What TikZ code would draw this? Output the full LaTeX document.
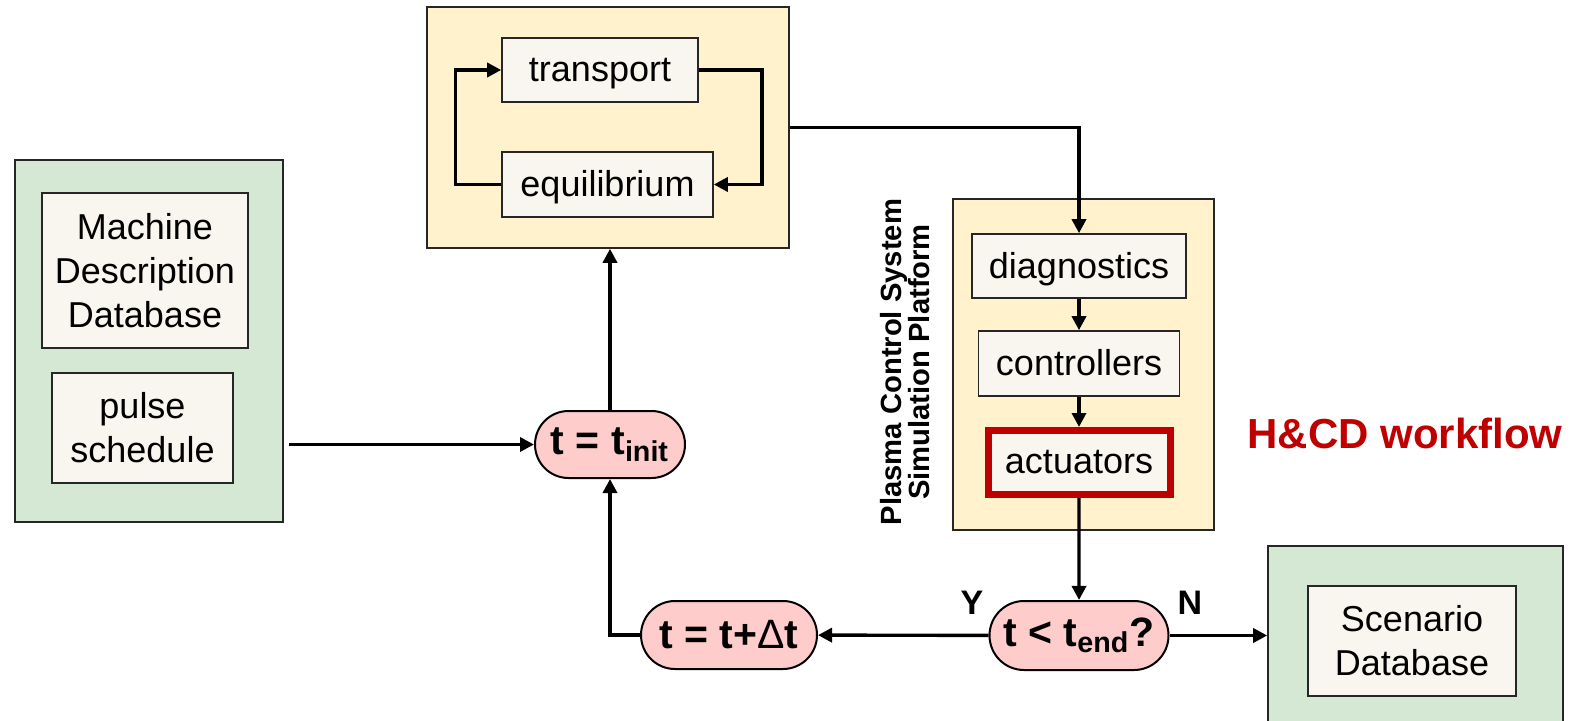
\documentclass[tikz,border=0pt]{standalone}
\usepackage{fontspec}
\setmainfont{Liberation Sans}
\usetikzlibrary{arrows.meta,shapes.misc}
\definecolor{panelyellow}{HTML}{FFF2CC}
\definecolor{panelgreen}{HTML}{D5E8D4}
\definecolor{boxcream}{HTML}{F8F6EE}
\definecolor{pillpink}{HTML}{FFCCCC}
\definecolor{hcdred}{HTML}{C00000}
\begin{document}
\begin{tikzpicture}[x=0.5pt,y=-0.5pt,
  panel/.style={draw=black!85,line width=0.8pt,inner sep=0pt},
  inbox/.style={draw=black!85,fill=boxcream,line width=0.8pt,inner sep=0pt,
    align=center,font=\fontsize{18}{22}\selectfont},
  oneline/.style={inbox,text depth=0.6pt},
  pill/.style={rounded rectangle,draw=black,fill=pillpink,line width=1pt,
    inner sep=0pt,font=\fontsize{20.5}{24}\selectfont\bfseries},
  link/.style={line width=1.7pt},
  arr/.style={link,-{Triangle[length=7pt,width=7pt]}},
  yn/.style={font=\fontsize{17}{20}\selectfont\bfseries}]
\clip (0,0) rectangle (1578,721);

% container panels
\node[panel,fill=panelyellow,minimum width=181pt,minimum height=120.5pt] (core) at (608,127.5) {};
\node[panel,fill=panelgreen,minimum width=134pt,minimum height=181pt] (inputs) at (149,341) {};
\node[panel,fill=panelyellow,minimum width=130.5pt,minimum height=165.5pt] (pcs) at (1083.5,364.5) {};
\node[panel,fill=panelgreen,minimum width=147.5pt,minimum height=100pt] (output) at (1415.5,646) {};

% inner boxes
\node[oneline,minimum width=98pt,minimum height=32pt] (transport) at (600,70) {transport};
\node[oneline,minimum width=105.5pt,minimum height=32.5pt] (equil) at (607.5,184.5) {equilibrium};
\node[inbox,minimum width=103pt,minimum height=77.5pt] (mdd) at (145,270.5) {Machine\\Description\\Database};
\node[inbox,minimum width=90.5pt,minimum height=55pt] (pulse) at (142.5,428) {pulse\\schedule};
\node[oneline,minimum width=107pt,minimum height=32pt] (diag) at (1079,266) {diagnostics};
\node[oneline,minimum width=100.5pt,minimum height=32.5pt] (ctrl) at (1079,363.5) {controllers};
\node[oneline,draw=hcdred,line width=3.5pt,minimum width=91pt,minimum height=32pt] (act) at (1079,462.5) {actuators};
\node[inbox,minimum width=104pt,minimum height=55pt] (scen) at (1412,641) {Scenario\\Database};

% decision / update nodes
\node[pill,minimum width=75pt,minimum height=33.5pt] (tinit) at (610,444.5) {t = t\textsubscript{init}};
\node[pill,minimum width=88pt,minimum height=34pt] (tinc) at (729,635) {t = t+{\mdseries Δ}t};
\node[pill,minimum width=89.5pt,minimum height=34.5pt] (tend) at (1079,635.5) {t < t\textsubscript{end}?};

% labels
\node[rotate=90,align=center,font=\fontsize{14.6}{14.2}\selectfont\bfseries] (pcslabel) at (905,362)
  {Plasma Control System\\Simulation Platform};
\node[font=\fontsize{21}{24}\selectfont\bfseries,text=hcdred] (hcd) at (1405,433) {H\&CD workflow};
\node[yn] (ylab) at (972,603) {Y};
\node[yn] (nlab) at (1190,603) {N};

% transport / equilibrium loop
\draw[arr] (transport.east) -- ++(63,0) |- (equil.east);
\draw[arr] (equil.west) -- ++(-46,0) |- (transport.west);

% main flow
\draw[arr] (core.east) -| (diag.north);
\draw[arr] (diag) -- (ctrl);
\draw[arr] (ctrl) -- (act);
\draw[arr] (act) -- (tend);
\draw[arr] (tend) -- (tinc);
\draw[arr] (tinc.west) -| (tinit.south);
\draw[arr] (tinit.north) -- (tinit.north |- core.south);
\draw[arr] ([xshift=2.5pt]inputs.east |- tinit.west) -- (tinit.west);
\draw[arr] (tend.east) -- (tend.east -| output.west);
\end{tikzpicture}
\end{document}
